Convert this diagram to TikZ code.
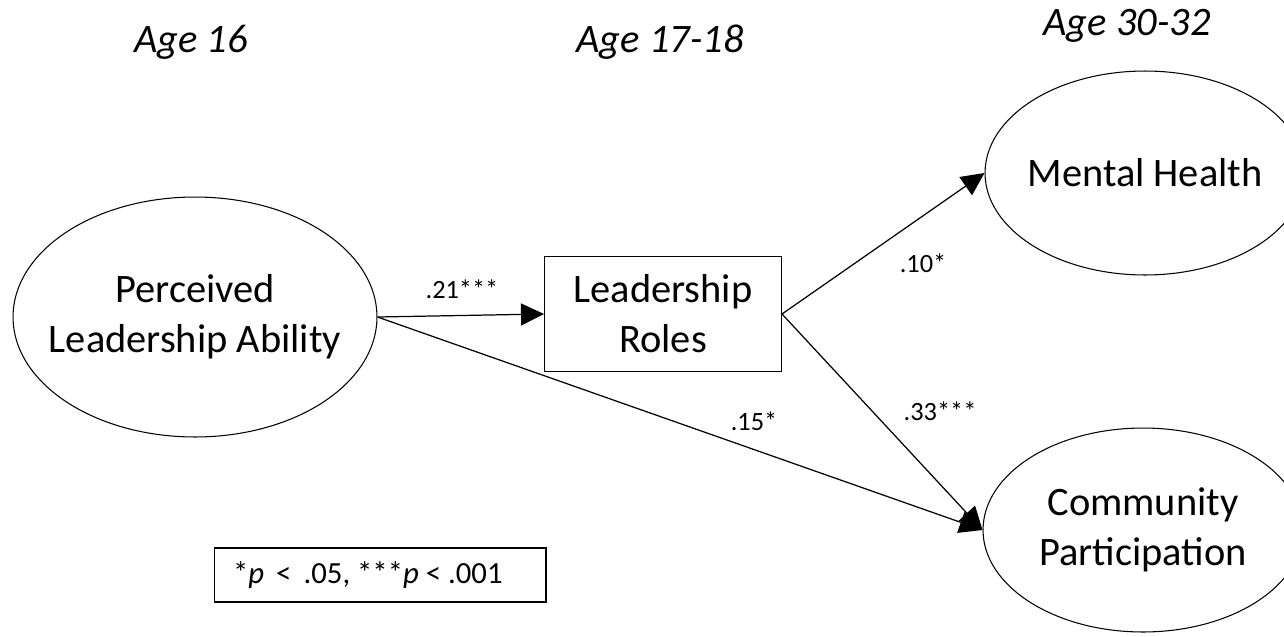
\documentclass[tikz,border=0pt]{standalone}
\usepackage{fontspec}
\setmainfont{Carlito}
\usetikzlibrary{positioning,shapes.geometric,arrows.meta}

\begin{document}
\begin{tikzpicture}[x=0.02cm, y=-0.02cm,
    latent/.style={draw, ellipse, line width=0.6pt, inner xsep=-0.5cm, inner ysep=-0.3cm, align=center, font=\fontsize{23}{28.5}\selectfont},
    bigLatent/.style={latent, minimum width=7.28cm, minimum height=4.8cm},
    outcome/.style={latent, minimum width=6.4cm, minimum height=4.08cm},
    observed/.style={draw, rectangle, line width=0.6pt, minimum width=4.74cm, minimum height=2.3cm, align=center, font=\fontsize{23}{28.5}\selectfont},
    agelabel/.style={anchor=base, font=\fontsize{23}{27}\selectfont\itshape},
    coef/.style={anchor=base, font=\fontsize{15}{18}\selectfont},
    path/.style={-{Triangle[length=0.46cm, width=0.44cm]}, line width=0.7pt}
]
\useasboundingbox (0,0) rectangle (1284,636);

% Ages
\node[agelabel] (age1) at (191,52) {Age 16};
\node[agelabel] (age2) at (660,52) {Age 17-18};
\node[agelabel] (age3) at (1127,35) {Age 30-32};

% Variables
\node[bigLatent] (ability) at (195,317) {Perceived\\Leadership Ability};
\node[observed] (roles) at (663,314) {Leadership\\Roles};
\node[outcome] (health) at (1145,173) {Mental Health};
\node[outcome] (community) at (1143,530) {Community\\Participation};

% Paths
\draw[path] (ability.east) -- (roles.west);
\draw[path] (roles.east) -- (health.west);
\draw[path] (roles.east) -- (community.west);
\draw[path] (ability.east) -- (community.west);

% Coefficients
\node[coef] (c21) at (462,298) {.21***};
\node[coef] (c10) at (923,272) {.10*};
\node[coef] (c33) at (940,420) {.33***};
\node[coef] (c15) at (754,430) {.15*};

% Legend
\node[draw, line width=0.6pt, inner xsep=0.38cm, minimum height=1.08cm, font=\fontsize{17.5}{21}\selectfont] (legend) at (380,575) {\makebox[5.88cm][l]{*\textit{p}\, <\, .05, ***\textit{p} < .001}};

\end{tikzpicture}
\end{document}
